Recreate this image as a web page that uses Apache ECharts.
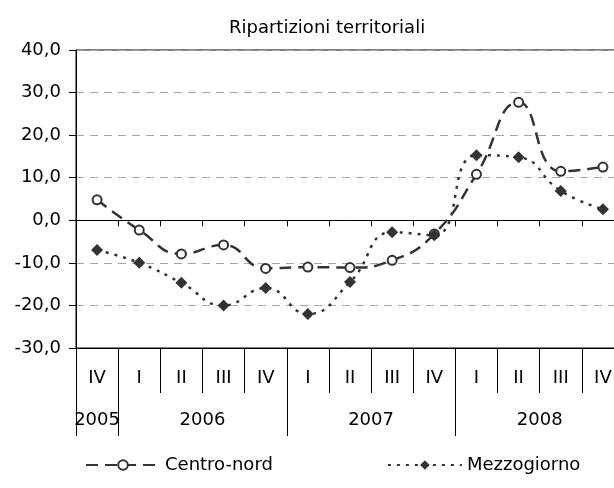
<!DOCTYPE html>
<html>
<head>
<meta charset="utf-8">
<script src="https://cdn.jsdelivr.net/npm/echarts@6/dist/echarts.min.js"></script>
<style>
html, body { margin: 0; padding: 0; background: #fff; }
#chart { width: 614px; height: 488px; }
</style>
</head>
<body>
<div id="chart"></div>
<script>
// quarters from IV 2005 to IV 2008
var quarters = ['IV', 'I', 'II', 'III', 'IV', 'I', 'II', 'III', 'IV', 'I', 'II', 'III', 'IV'];
// year row: half-quarter slots, label at the middle of each year group
var yearLabels = {1: '2005', 6: '2006', 14: '2007', 22: '2008'};
var yearBreaks = [0, 2, 10, 18, 26];
var centroNord = [4.8, -2.3, -7.9, -5.8, -11.3, -11.0, -11.1, -9.4, -3.2, 10.8, 27.7, 11.5, 12.5];
var mezzogiorno = [-7.0, -10.0, -14.7, -20.0, -15.9, -22.0, -14.5, -2.8, -3.5, 15.3, 14.8, 6.9, 2.6];
var yTicks = [-30, -20, -10, 0, 10, 20, 30, 40];

var halfSlots = [];
for (var i = 0; i <= 26; i++) halfSlots.push(String(i));

var font = 'DejaVu Sans, sans-serif';
var chart = echarts.init(document.getElementById('chart'), null, {renderer: 'canvas'});
chart.setOption({
    animation: false,
    title: {
        text: 'Ripartizioni territoriali',
        left: 229,
        top: 19,
        padding: 0,
        textStyle: {fontFamily: font, fontSize: 18, fontWeight: 'normal', color: '#000'}
    },
    legend: {
        left: 85,
        top: 456,
        padding: 0,
        itemWidth: 74,
        itemHeight: 12,
        itemGap: 114,
        textStyle: {fontFamily: font, fontSize: 18, color: '#000'},
        data: ['Centro-nord', 'Mezzogiorno']
    },
    grid: {
        left: 76,
        top: 50,
        right: -10,
        bottom: 140,
        outerBoundsMode: 'none',
        containLabel: false,
        show: true,
        borderColor: '#000',
        borderWidth: 1
    },
    xAxis: [{
        // zero line with small ticks
        type: 'category',
        data: quarters,
        position: 'bottom',
        axisLine: {onZero: true, lineStyle: {color: '#000', width: 1}},
        axisTick: {show: true, length: 6, lineStyle: {color: '#000'}},
        axisLabel: {show: false},
        splitLine: {show: false}
    }, {
        // quarter labels at bottom
        type: 'category',
        data: quarters,
        position: 'bottom',
        axisLine: {onZero: false, lineStyle: {color: '#000', width: 1}},
        axisTick: {show: true, length: 45, lineStyle: {color: '#000'}},
        axisLabel: {margin: 21, fontFamily: font, fontSize: 18, color: '#000'},
        splitLine: {show: false}
    }, {
        // year labels and separators
        type: 'category',
        data: halfSlots,
        boundaryGap: false,
        position: 'bottom',
        axisLine: {show: false, onZero: false},
        axisTick: {
            show: true,
            length: 88,
            interval: function (idx) { return yearBreaks.indexOf(idx) >= 0; },
            lineStyle: {color: '#000'}
        },
        axisLabel: {
            interval: 0,
            margin: 63,
            fontFamily: font,
            fontSize: 18,
            color: '#000',
            formatter: function (v, idx) { return yearLabels[idx] || ''; }
        },
        splitLine: {show: false}
    }],
    yAxis: {
        type: 'value',
        min: yTicks[0],
        max: yTicks[yTicks.length - 1],
        interval: 10,
        axisLine: {show: true, lineStyle: {color: '#000', width: 1}},
        axisTick: {show: true, length: 7, lineStyle: {color: '#000'}},
        axisLabel: {
            margin: 15,
            fontFamily: font,
            fontSize: 18,
            color: '#000',
            formatter: function (v) { return v.toFixed(1).replace('.', ','); }
        },
        splitLine: {show: true, lineStyle: {color: '#a6a6a6', type: [8, 6], width: 1}}
    },
    series: [{
        name: 'Centro-nord',
        type: 'line',
        xAxisIndex: 1,
        data: centroNord,
        smooth: 0.5,
        symbol: 'emptyCircle',
        symbolSize: 9,
        lineStyle: {color: '#333', width: 2.5, type: [12, 7]},
        itemStyle: {color: '#333', borderColor: '#333', borderWidth: 2}
    }, {
        name: 'Mezzogiorno',
        type: 'line',
        xAxisIndex: 1,
        data: mezzogiorno,
        smooth: 0.5,
        symbol: 'diamond',
        symbolSize: 12,
        lineStyle: {color: '#333', width: 2.5, type: [3, 6]},
        itemStyle: {color: '#333'}
    }]
});
</script>
</body>
</html>
